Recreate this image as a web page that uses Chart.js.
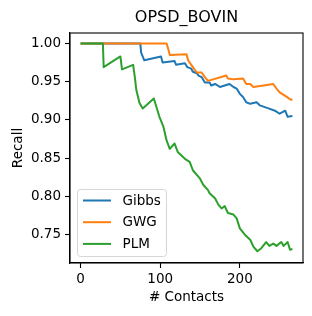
<!DOCTYPE html>
<html>
<head>
<meta charset="utf-8">
<script src="https://cdn.jsdelivr.net/npm/chart.js@4/dist/chart.umd.min.js"></script>
<style>
  html, body { margin: 0; padding: 0; background: #fff; }
  #wrap { width: 312px; height: 316px; }
</style>
</head>
<body>
<div id="wrap"><canvas id="chart" width="312" height="316"></canvas></div>
<script>
const chartTitle = "OPSD_BOVIN";
const xTicks = [0, 100, 200];
const yTicks = [0.75, 0.80, 0.85, 0.90, 0.95, 1.00];

const contactsGibbs = [0, 75, 76, 80, 101, 103, 118, 120, 131, 134, 139, 141, 146, 148, 152, 156, 162, 164, 169, 175,
  187, 192, 196, 200, 204, 208, 213, 221, 225, 236, 244, 250, 257, 260, 266];
const recallGibbs = [1.0, 1.0, 0.988, 0.978, 0.983, 0.975, 0.977, 0.972, 0.974, 0.969, 0.967, 0.963, 0.961, 0.958, 0.956, 0.949, 0.949, 0.945, 0.947, 0.943,
  0.947, 0.943, 0.941, 0.934, 0.930, 0.923, 0.921, 0.923, 0.919, 0.915, 0.912, 0.908, 0.912, 0.904, 0.905];

const contactsGwg = [0, 108, 110, 112, 133, 135, 139, 143, 146, 152, 156, 160, 183, 185, 192, 204, 208, 213, 217, 242,
  246, 250, 253, 259, 263, 266];
const recallGwg = [1.0, 1.0, 0.993, 0.985, 0.986, 0.978, 0.972, 0.966, 0.962, 0.962, 0.956, 0.951, 0.958, 0.954, 0.953, 0.954, 0.947, 0.947, 0.943, 0.947,
  0.941, 0.936, 0.934, 0.930, 0.927, 0.926];

const contactsPlm = [0, 28, 29, 50, 52, 66, 68, 70, 74, 78, 92, 99, 104, 108, 112, 118, 122, 131, 137, 141,
  150, 154, 160, 162, 169, 173, 177, 181, 185, 192, 196, 200, 206, 213, 217, 222, 227, 233, 237, 242,
  246, 252, 255, 260, 263, 266];
const recallPlm = [1.0, 1.0, 0.969, 0.983, 0.966, 0.972, 0.957, 0.939, 0.922, 0.915, 0.928, 0.904, 0.891, 0.873, 0.862, 0.869, 0.858, 0.849, 0.845, 0.834,
  0.823, 0.815, 0.808, 0.804, 0.797, 0.789, 0.784, 0.787, 0.778, 0.776, 0.771, 0.758, 0.750, 0.743, 0.734, 0.728, 0.732, 0.740, 0.735, 0.738,
  0.735, 0.740, 0.735, 0.740, 0.730, 0.731];

const toPoints = (xs, ys) => xs.map((x, i) => ({ x, y: ys[i] }));

Chart.defaults.font.family = "'DejaVu Sans', sans-serif";
Chart.defaults.color = "#000";

// spines on all four sides + title centred over the axes, like matplotlib
const frame = {
  id: "frame",
  afterDraw(chart) {
    const { ctx, chartArea: a } = chart;
    ctx.save();
    ctx.strokeStyle = "#000";
    ctx.lineWidth = 1.1;
    ctx.strokeRect(a.left, a.top, a.right - a.left, a.bottom - a.top);
    ctx.font = "16px 'DejaVu Sans'";
    ctx.fillStyle = "#000";
    ctx.textAlign = "center";
    ctx.textBaseline = "middle";
    ctx.fillText(chartTitle, (a.left + a.right) / 2, 18);
    ctx.restore();
  },
};

// legend box in the lower left of the axes
const boxLegend = {
  id: "boxLegend",
  afterDraw(chart) {
    const { ctx, chartArea: a } = chart;
    const x = a.left + 7.5, y = a.bottom - 73.5, w = 89, h = 67;
    ctx.save();
    ctx.beginPath();
    ctx.roundRect(x, y, w, h, 3);
    ctx.fillStyle = "rgba(255,255,255,0.8)";
    ctx.fill();
    ctx.strokeStyle = "#d6d6d6";
    ctx.lineWidth = 1;
    ctx.stroke();
    ctx.font = "13.5px 'DejaVu Sans'";
    ctx.textBaseline = "middle";
    chart.data.datasets.forEach((ds, i) => {
      const ly = y + 11 + i * 21.7;
      ctx.strokeStyle = ds.borderColor;
      ctx.lineWidth = 2;
      ctx.beginPath();
      ctx.moveTo(x + 5.5, ly);
      ctx.lineTo(x + 33.5, ly);
      ctx.stroke();
      ctx.fillStyle = "#000";
      ctx.fillText(ds.label, x + 45, ly + 0.5);
    });
    ctx.restore();
  },
};

new Chart(document.getElementById("chart"), {
  type: "line",
  data: {
    datasets: [
      { label: "Gibbs", data: toPoints(contactsGibbs, recallGibbs), borderColor: "#1f77b4", order: 3 },
      { label: "GWG", data: toPoints(contactsGwg, recallGwg), borderColor: "#ff7f0e", order: 2 },
      { label: "PLM", data: toPoints(contactsPlm, recallPlm), borderColor: "#2ca02c", order: 1 },
    ],
  },
  options: {
    responsive: false,
    animation: false,
    layout: { padding: { top: 33, right: 9 } },
    elements: {
      point: { radius: 0 },
      line: { borderWidth: 2, tension: 0, borderJoinStyle: "round", fill: false },
    },
    plugins: {
      legend: { display: false },
      tooltip: { enabled: false },
      title: { display: false },
    },
    scales: {
      x: {
        type: "linear",
        min: -13.3,
        max: 279.3,
        afterBuildTicks: (s) => { s.ticks = xTicks.map((v) => ({ value: v })); },
        afterFit: (s) => { s.height = 53; },
        ticks: { font: { size: 13.5 }, padding: 3, maxRotation: 0, callback: (v) => String(v) },
        grid: { drawOnChartArea: false, tickLength: 5, tickColor: "#000", tickWidth: 1.1 },
        border: { color: "#000", width: 1.1 },
        title: { display: true, text: "# Contacts", font: { size: 13.5 }, padding: { bottom: 10 } },
      },
      y: {
        type: "linear",
        min: 0.7126,
        max: 1.0137,
        afterBuildTicks: (s) => { s.ticks = yTicks.map((v) => ({ value: v })); },
        afterFit: (s) => { s.width = 70; },
        ticks: { font: { size: 13.5 }, padding: 4, callback: (v) => v.toFixed(2) },
        grid: { drawOnChartArea: false, tickLength: 5, tickColor: "#000", tickWidth: 1.1 },
        border: { color: "#000", width: 1.1 },
        title: { display: true, text: "Recall", font: { size: 13.5 }, padding: { top: 10 } },
      },
    },
  },
  plugins: [frame, boxLegend],
});
</script>
</body>
</html>
